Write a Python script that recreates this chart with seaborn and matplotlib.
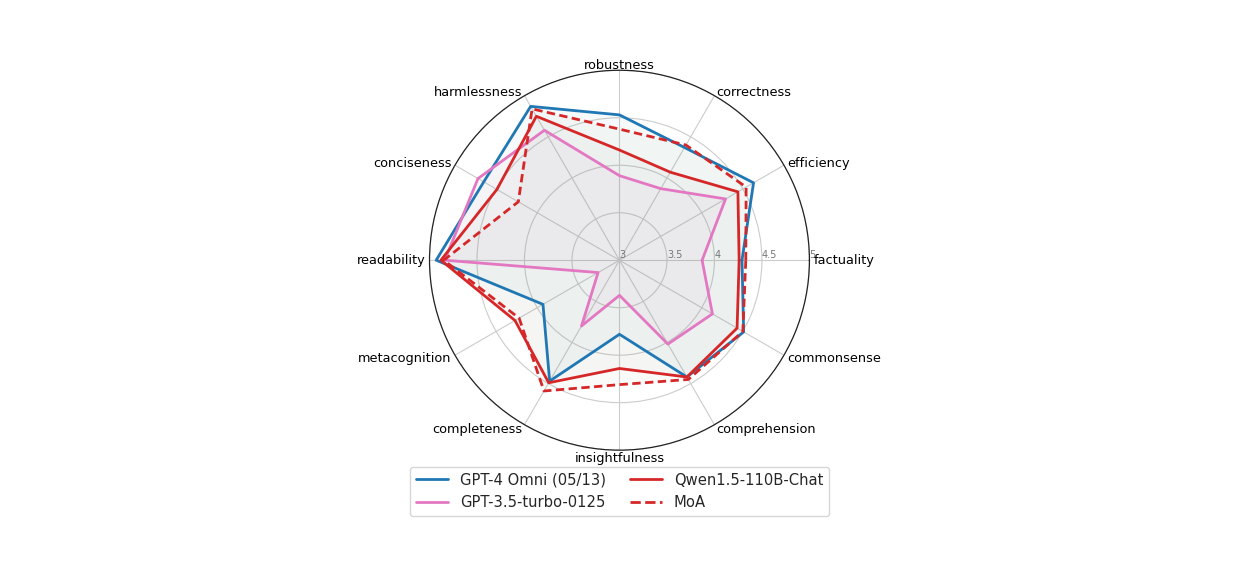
import numpy as np
import pandas as pd
import matplotlib
matplotlib.use("Agg")
import matplotlib.pyplot as plt
import seaborn as sns
from matplotlib.lines import Line2D

categories = ["factuality", "efficiency", "correctness", "robustness", "harmlessness",
              "conciseness", "readability", "metacognition", "completeness",
              "insightfulness", "comprehension", "commonsense"]
gpt4o = [4.29, 4.63, 4.37, 4.53, 4.87, 4.65, 4.93, 3.93, 4.47, 3.78, 4.42, 4.51]
gpt35 = [3.87, 4.29, 3.87, 3.89, 4.58, 4.72, 4.84, 3.26, 3.80, 3.37, 4.02, 4.13]
qwen = [4.26, 4.44, 4.07, 4.16, 4.75, 4.49, 4.88, 4.27, 4.49, 4.14, 4.42, 4.43]
moa = [4.33, 4.54, 4.40, 4.38, 4.84, 4.23, 4.85, 4.22, 4.59, 4.31, 4.45, 4.50]
model_names = ["GPT-4 Omni (05/13)", "GPT-3.5-turbo-0125", "Qwen1.5-110B-Chat", "MoA"]
r_ticks = [3, 3.5, 4, 4.5, 5]
r_tick_labels = ["3", "3.5", "4", "4.5", "5"]

sns.set_style("white")
plt.rcParams['font.family'] = ['DejaVu Sans']

colors = {"GPT-4 Omni (05/13)": "#1f77b4", "GPT-3.5-turbo-0125": "#e377c2",
          "Qwen1.5-110B-Chat": "#d62728", "MoA": "#d62728"}
fill_colors = {"GPT-4 Omni (05/13)": "#2a8890", "GPT-3.5-turbo-0125": "#d070b0",
               "Qwen1.5-110B-Chat": "#808078", "MoA": "#808070"}
dash_map = {"GPT-4 Omni (05/13)": "", "GPT-3.5-turbo-0125": "",
            "Qwen1.5-110B-Chat": "", "MoA": (3, 1.6)}

n = len(categories)
angles = np.linspace(0, 2 * np.pi, n, endpoint=False)
theta_closed = np.concatenate([angles, [2 * np.pi]])

rows = []
for name, vals in zip(model_names, [gpt4o, gpt35, qwen, moa]):
    vc = list(vals) + [vals[0]]
    for t, v in zip(theta_closed, vc):
        rows.append({"theta": t, "score": v, "model": name})
df = pd.DataFrame(rows)

fig = plt.figure(figsize=(12.34, 5.62), dpi=100)
ax = fig.add_axes([0.348, 0.199, 0.308, 0.676], projection="polar")

for name in model_names:
    sub = df[df["model"] == name]
    ax.fill(sub["theta"].values, sub["score"].values, color=fill_colors[name],
            alpha=0.038, zorder=1, linewidth=0)

sns.lineplot(data=df, x="theta", y="score", hue="model", style="model",
             palette=colors, dashes=dash_map, sort=False, estimator=None,
             linewidth=2, ax=ax, legend=False, zorder=3)

ax.set_ylim(3, 5)
ax.set_yticks(r_ticks)
ax.set_yticklabels(r_tick_labels, fontsize=7, color="#777777")
ax.set_rlabel_position(0)
ax.set_xticks(angles)
ax.set_xticklabels([])
ax.set_xlabel("")
ax.set_ylabel("")
ax.grid(True, color="#cccccc", linewidth=0.8)
ax.spines["polar"].set_color("#222222")
ax.spines["polar"].set_linewidth(0.9)

for ang, lab in zip(angles, categories):
    c, s = np.cos(ang), np.sin(ang)
    ha = "left" if c > 0.1 else ("right" if c < -0.1 else "center")
    if s > 0.9:
        dx, dy = 0.0, 3.6
    elif s < -0.9:
        dx, dy = 0.0, -6.0
    else:
        dx, dy = 3.0 * c, 3.0 * s + (-1.0 if s < -0.1 else 0.0)
    ax.annotate(lab, xy=(ang, 5), xytext=(dx, dy), textcoords="offset points",
                ha=ha, va="center", fontsize=9.3, color="black", annotation_clip=False)

handles = [Line2D([0], [0], color=colors[m], lw=2,
                  linestyle="--" if m == "MoA" else "-") for m in model_names]
fig.legend(handles, model_names, loc="center", bbox_to_anchor=(0.502, 0.126),
           ncol=2, fontsize=10.6, frameon=True, columnspacing=1.6, handlelength=2.2)

fig.savefig("out.png", dpi=100)
